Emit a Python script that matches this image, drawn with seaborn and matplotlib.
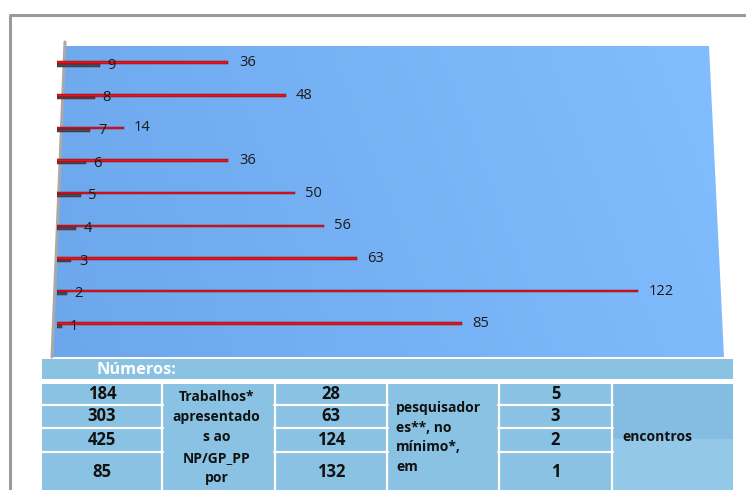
import numpy as np
import pandas as pd
import matplotlib
matplotlib.use("Agg")
import matplotlib.pyplot as plt
from matplotlib.patches import Polygon, Rectangle
import seaborn as sns

# ---------------- data ----------------
categorias = ["1", "2", "3", "4", "5", "6", "7", "8", "9"]
serie_escura = [1, 2, 3, 4, 5, 6, 7, 8, 9]
serie_vermelha = [85, 122, 63, 56, 50, 36, 14, 48, 36]

tab_trabalhos = ["184", "303", "425", "85"]
tab_pesquisadores = ["28", "63", "124", "132"]
tab_encontros = ["5", "3", "2", "1"]
txt_trabalhos = ["Trabalhos*", "apresentado", "s ao", "NP/GP_PP", "por"]
txt_pesquisadores = ["pesquisador", "es**, no", "mínimo*,", "em"]
txt_encontros = "encontros"
titulo_tabela = "Números:"

df = pd.DataFrame({
    "cat": categorias * 2,
    "valor": serie_vermelha + serie_escura,
    "serie": ["Série 2"] * len(categorias) + ["Série 1"] * len(categorias),
})

sns.set_theme(style="white")
plt.rcParams["font.family"] = ["Open Sans", "DejaVu Sans"]

W, H = 746, 490
fig = plt.figure(figsize=(W / 100, H / 100), dpi=100)
fig.patch.set_facecolor("white")

# background / decoration axes in pixel coords
bg = fig.add_axes([0, 0, 1, 1], zorder=0)
bg.set_xlim(0, W)
bg.set_ylim(H, 0)
bg.axis("off")

# outer frame
bg.plot([10, 10, W], [H, 15, 15], color="#9a9a9a", lw=2.2, solid_capstyle="butt")

# gradient panel (trapezoid)
poly = Polygon([(64, 46), (709, 46), (724, 357), (52, 357)], closed=True,
               facecolor="none", edgecolor="none")
bg.add_patch(poly)
xs = np.linspace(0, 1, 300)
ys = np.linspace(0, 1, 100)
gx, gy = np.meshgrid(xs, ys)
t = 0.85 * gx + 0.15 * (1 - gy)
c0 = np.array([0x6C, 0xA7, 0xEC]) / 255
c1 = np.array([0x82, 0xBD, 0xFF]) / 255
img = c0[None, None, :] * (1 - t[..., None]) + c1[None, None, :] * t[..., None]
im = bg.imshow(img, extent=[52, 724, 357, 46], aspect="auto", interpolation="bilinear")
im.set_clip_path(poly)
# left wall edge
bg.plot([65, 52], [42, 357], color="#a9a9a9", lw=2.2)

# ---------------- table ----------------
cell = "#8AC2E3"
bg.add_patch(Rectangle((42, 359), 733 - 42, 20, facecolor=cell, edgecolor="none"))
bg.text(96, 369.5, titulo_tabela, color="white", fontsize=11.8, fontweight="bold",
        ha="left", va="center")

top, bot = 384, 492
cols = [42, 162, 275, 387, 499, 612, 733]
rows = [384, 405, 428, 452, 492]
bg.add_patch(Rectangle((42, top), 733 - 42, bot - top, facecolor=cell, edgecolor="none"))
bg.add_patch(Rectangle((612, top), 733 - 612, 55, facecolor="#84BCE2", edgecolor="none"))
bg.add_patch(Rectangle((612, top + 55), 733 - 612, bot - top - 55, facecolor="#93C8E8",
                       edgecolor="none"))
for x in cols[1:-1]:
    bg.plot([x, x], [top, bot], color="white", lw=1.6)
for y in rows[1:-1]:
    for c in (0, 2, 4):
        bg.plot([cols[c] - 1, cols[c + 1] + 1], [y, y], color="white", lw=1.6)

row_cy = [393.5, 416, 439.5, 471.5]
for i in range(4):
    bg.text((cols[0] + cols[1]) / 2, row_cy[i], tab_trabalhos[i], fontsize=12,
            fontweight="bold", ha="center", va="center", color="#111111")
    bg.text((cols[2] + cols[3]) / 2, row_cy[i], tab_pesquisadores[i], fontsize=12,
            fontweight="bold", ha="center", va="center", color="#111111")
    bg.text((cols[4] + cols[5]) / 2, row_cy[i], tab_encontros[i], fontsize=12,
            fontweight="bold", ha="center", va="center", color="#111111")
for j, s in enumerate(txt_trabalhos):
    bg.text(216.5, 397 + 20.2 * j, s, fontsize=10, fontweight="bold", ha="center",
            va="center", color="#111111")
for j, s in enumerate(txt_pesquisadores):
    bg.text(396, 408 + 19.5 * j, s, fontsize=10, fontweight="bold", ha="left",
            va="center", color="#111111")
bg.text(622, 437, txt_encontros, fontsize=10, fontweight="bold", ha="left",
        va="center", color="#111111")

# ---------------- chart ----------------
ax = fig.add_axes([57 / W, 1 - 357 / H, (716 - 57) / W, (357 - 47) / H], zorder=2)
ax.patch.set_alpha(0)
order = categorias[::-1]
sns.barplot(data=df, y="cat", x="valor", hue="serie", order=order,
            hue_order=["Série 2", "Série 1"],
            palette={"Série 2": "#E3141C", "Série 1": "#3C4D5E"},
            width=0.16, dodge=True, saturation=1, orient="h", legend=False, ax=ax,
            edgecolor="#7a0000", linewidth=0.3)
ax.set_xlim(0, 138.4)
ax.set_ylim(8.98, -0.52)
ax.bar_label(ax.containers[0], padding=7.5, fontsize=10.5, color="#1a1a1a")
ax.bar_label(ax.containers[1], padding=5.5, fontsize=10.5, color="#1a1a1a")
ax.set_xlabel("")
ax.set_ylabel("")
ax.set_xticks([])
ax.set_yticks([])
for sp in ax.spines.values():
    sp.set_visible(False)

fig.savefig("out.png", dpi=100, facecolor="white")
